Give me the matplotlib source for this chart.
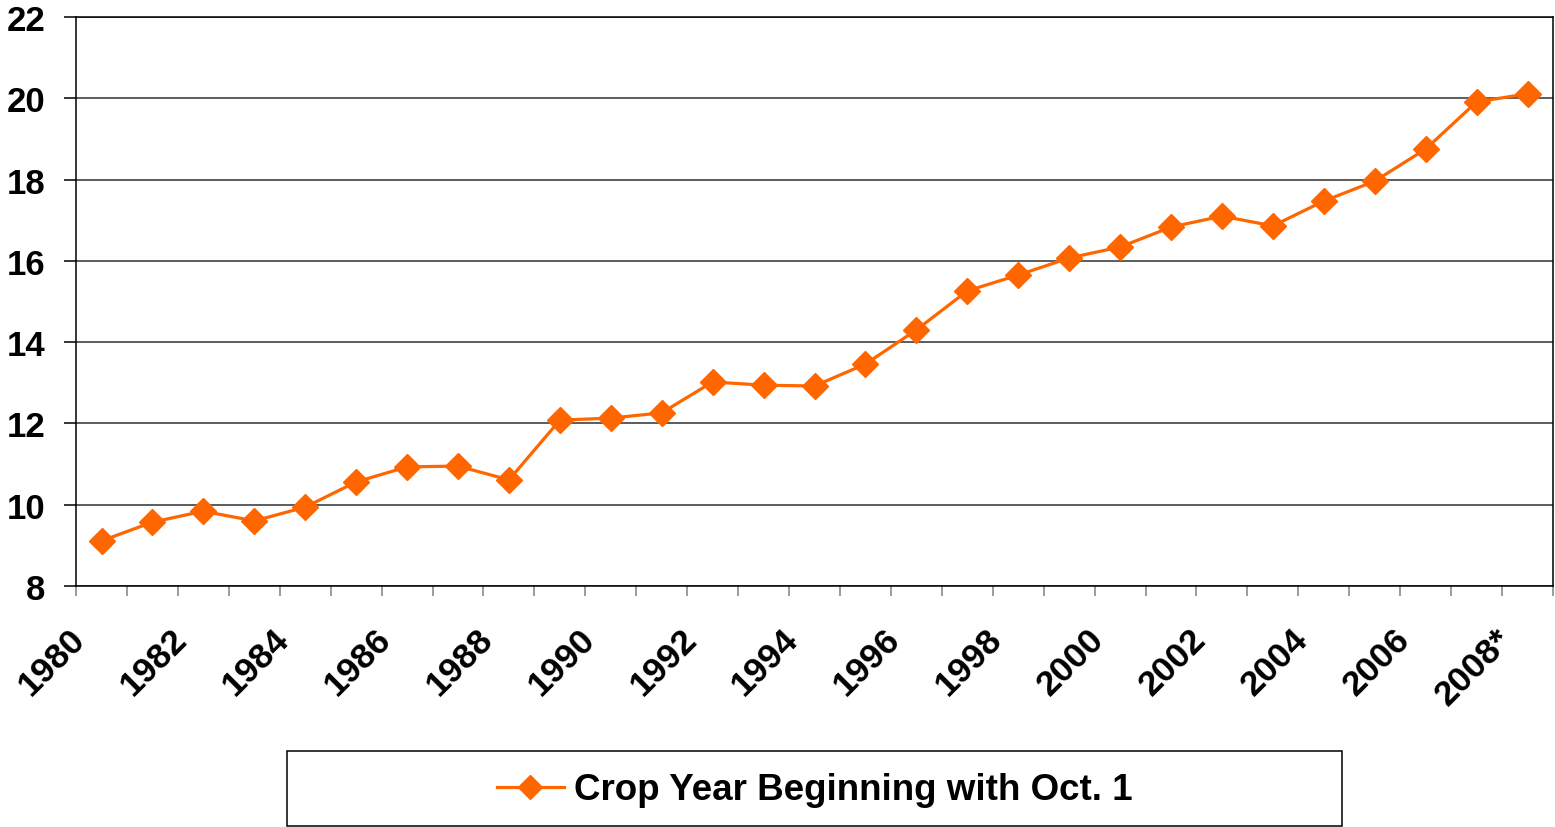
import matplotlib
matplotlib.use("Agg")
import matplotlib.pyplot as plt
import matplotlib.transforms as mtransforms
from matplotlib.lines import Line2D
from matplotlib.patches import Rectangle

plt.rcParams['font.family'] = ['Liberation Sans', 'DejaVu Sans']
plt.rcParams['font.weight'] = 'bold'

# data
years = ['1980', '1981', '1982', '1983', '1984', '1985', '1986', '1987', '1988', '1989',
         '1990', '1991', '1992', '1993', '1994', '1995', '1996', '1997', '1998', '1999',
         '2000', '2001', '2002', '2003', '2004', '2005', '2006', '2007', '2008*']
values = [9.11, 9.57, 9.84, 9.60, 9.94, 10.56, 10.93, 10.95, 10.61, 12.08,
          12.13, 12.26, 13.02, 12.94, 12.92, 13.46, 14.30, 15.26, 15.65, 16.07,
          16.34, 16.83, 17.10, 16.86, 17.47, 17.96, 18.75, 19.91, 20.11]
series_name = 'Crop Year Beginning with Oct. 1'
orange = '#FF6600'

fig = plt.figure(figsize=(15.55, 8.28), dpi=100)
ax = fig.add_axes([0.0489, 0.2911, 0.9498, 0.6872])

x = list(range(len(years)))
ax.plot(x, values, color=orange, lw=2.3, marker='D', ms=13.5, mec=orange, mfc=orange, zorder=3)

ax.set_xlim(-0.5, len(years) - 0.5)
ax.set_ylim(8, 22)
ax.set_yticks(range(8, 23, 2))
ax.grid(axis='y', color='#303030', lw=1.1)
ax.set_axisbelow(True)

for s in ax.spines.values():
    s.set_color('black')
    s.set_linewidth(1.1)

ax.tick_params(axis='y', direction='out', length=9, width=1.1, color='black',
               labelsize=25, pad=13)

# labels every other year, ticks at category boundaries
ax.set_xticks(x[::2])
ax.set_xticklabels(years[::2], rotation=45, ha='right', va='top',
                   rotation_mode='anchor', fontsize=25.5)
ax.tick_params(axis='x', which='major', length=0, pad=26)
ax.set_xticks([i - 0.5 for i in range(len(years) + 1)], minor=True)
ax.tick_params(axis='x', which='minor', direction='out', length=7, width=1.1, color='#808080')
shift = mtransforms.ScaledTranslation(-33 / 100, 0, fig.dpi_scale_trans)
for lab in ax.get_xticklabels():
    lab.set_transform(lab.get_transform() + shift)

# legend box
fig.patches.append(Rectangle((0.1846, 0.0012), 0.6785, 0.0906, transform=fig.transFigure,
                             fill=False, ec='black', lw=1.1))
handle = Line2D([], [], color=orange, lw=2.3, marker='D', ms=12.5)
fig.legend([handle], [series_name], loc='center', bbox_to_anchor=(0.5238, 0.0447),
           frameon=False, prop={'size': 26.5, 'weight': 'bold'}, handlelength=1.82,
           handletextpad=0.27, borderpad=0)

fig.savefig('out.png', dpi=100)
